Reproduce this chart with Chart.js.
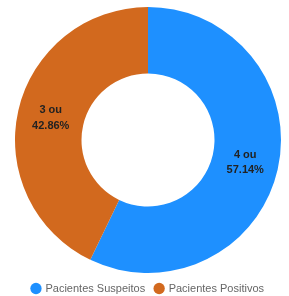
<!DOCTYPE html>
<html>
<head>
<meta charset="utf-8">
<script src="https://cdn.jsdelivr.net/npm/chart.js@4"></script>
<style>
  html, body { margin: 0; padding: 0; background: #fff; }
  #wrap { width: 289px; height: 296px; }
</style>
</head>
<body>
<div id="wrap"><canvas id="chart"></canvas></div>
<script>
const labels = ['Pacientes Suspeitos', 'Pacientes Positivos']
const counts = [4, 3]
const colors = ['#1E90FF', '#D2691E']

const total = counts.reduce((a, b) => a + b, 0)

// draw "n ou xx.xx%" on each slice
const sliceLabels = {
  id: 'sliceLabels',
  afterDatasetsDraw(chart) {
    const c = chart.ctx
    const meta = chart.getDatasetMeta(0)
    c.save()
    c.font = 'bold 11px Arial, "Liberation Sans", sans-serif'
    c.fillStyle = '#222'
    c.textAlign = 'center'
    c.textBaseline = 'middle'
    meta.data.forEach((arc, i) => {
      const p = arc.tooltipPosition()
      const pct = (counts[i] / total * 100).toFixed(2) + '%'
      c.fillText(counts[i] + ' ou', p.x, p.y - 7.5)
      c.fillText(pct, p.x, p.y + 8)
    })
    c.restore()
  }
}

new Chart(document.getElementById('chart'), {
  type: 'doughnut',
  data: {
    labels: labels,
    datasets: [{
      data: counts,
      backgroundColor: colors,
      borderWidth: 0
    }]
  },
  options: {
    responsive: true,
    maintainAspectRatio: false,
    animation: false,
    cutout: '50%',
    layout: { padding: { top: 7, bottom: -8, left: 7, right: 0 } },
    plugins: {
      tooltip: { enabled: false },
      legend: {
        position: 'bottom',
        labels: {
          usePointStyle: true,
          pointStyle: 'circle',
          boxWidth: 8,
          boxHeight: 8,
          padding: 10,
          color: '#666',
          font: { size: 11, family: 'Arial, "Liberation Sans", sans-serif' }
        }
      }
    }
  },
  plugins: [sliceLabels]
})
</script>
</body>
</html>
